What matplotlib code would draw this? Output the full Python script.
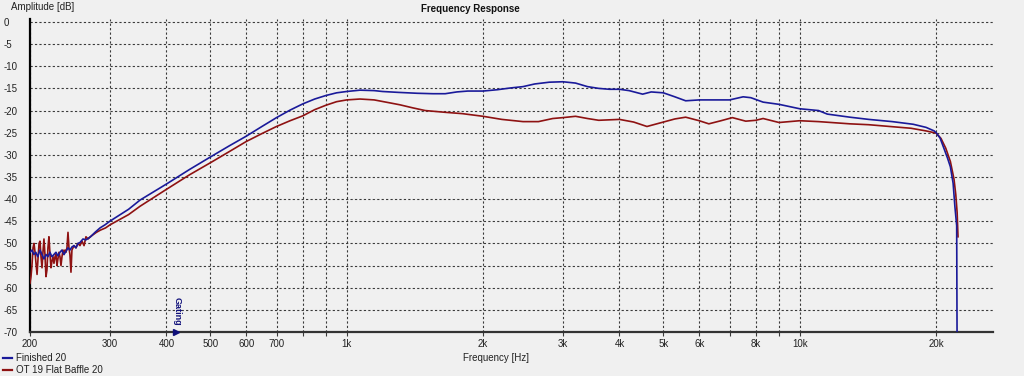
import matplotlib
matplotlib.use("Agg")
import matplotlib.pyplot as plt
from matplotlib.lines import Line2D
from matplotlib.ticker import FixedLocator, FixedFormatter, NullFormatter

plt.rcParams['font.family'] = ['Liberation Sans', 'DejaVu Sans']

# ---------------- data ----------------
blue_freq = [200, 202, 204, 206, 208, 210.4, 212.5, 214.7, 216.9, 219.1, 221.3, 223.6,
             225.9, 228.2, 230.5, 232.9, 235.2, 237.7, 240.1, 242.6, 245, 247.5, 250.1,
             252.6, 255.2, 257.8, 261.8, 265.8, 272, 278.3, 285.5, 292.8, 300,
             330, 350, 400, 450, 500, 550, 600, 650, 700, 750, 800, 850, 900, 950,
             1000, 1070, 1150, 1200, 1300, 1430, 1550, 1650, 1750, 1850, 2000, 2150,
             2300, 2450, 2600, 2800, 3000, 3200, 3400, 3600, 3800, 4000, 4200, 4500,
             4700, 5000, 5300, 5600, 6000, 6500, 7000, 7500, 7800, 8300, 9000, 10000,
             11000, 11500, 12900, 14200, 16000, 17800, 19000, 19800, 20000, 20400,
             20800, 21200, 21500, 21800, 22000, 22200, 22250]
blue_db = [-52.0, -51.5, -52.5, -52.0, -53.0, -51.5, -52.5, -53.5, -52.5, -53.0, -52.0, -53.0,
           -52.5, -52.0, -52.8, -52.0, -51.5, -52.5, -51.8, -51.0, -51.5, -50.8, -50.5,
           -51.0, -50.0, -49.8, -49.0, -49.2, -48.5, -47.5, -46.5, -45.8, -45.0,
           -42.3, -40.2, -36.6, -33.3, -30.5, -28.0, -25.8, -23.6, -21.6, -19.9, -18.5,
           -17.4, -16.6, -16.0,
           -15.7, -15.4, -15.5, -15.7, -15.9, -16.1, -16.2, -16.2, -15.8, -15.6, -15.6, -15.3,
           -14.9, -14.6, -14.0, -13.6, -13.5, -13.8, -14.6, -15.0, -15.2, -15.2, -15.5, -16.3,
           -15.8, -16.0, -16.9, -17.8, -17.6, -17.6, -17.6, -16.9, -17.1, -18.1, -18.6, -19.6,
           -20.0, -20.8, -21.5, -22.0, -22.5, -23.1, -23.8, -24.6, -25.0, -26.2,
           -28.5, -30.8, -32.7, -36.4, -41.7, -46.0, -75.0]

red_freq = [200.0, 201.0, 202.0, 203.1, 204.1, 205.2, 206.2, 207.3, 208.3, 209.4, 210.4,
            211.5, 212.6, 213.6, 214.7, 215.8, 216.9, 218.0, 219.1, 220.2, 221.4, 222.5,
            223.6, 224.8, 225.9, 227.1, 228.2, 229.4, 230.5, 231.7, 232.9, 234.1, 235.3,
            236.5, 237.7, 238.9, 240.1, 241.3, 242.6, 243.8, 245.0, 246.3, 247.5, 248.8,
            250.1, 252.6, 255.2, 257.8, 260.5, 263.2, 265.8, 268.6, 271.7, 275.9, 280.3,
            286.0, 293.6, 300.4,
            330, 350, 400, 450, 500, 550, 600, 650, 700, 750, 800, 850, 900, 950,
            1000, 1070, 1150, 1250, 1310, 1400, 1490, 1650, 1800, 2000, 2200, 2450, 2650,
            2850, 3000, 3200, 3400, 3600, 4000, 4300, 4600, 5000, 5300, 5600, 6000, 6300,
            6700, 7100, 7600, 8000, 8300, 9000, 10000, 11000, 12900, 14200, 15800, 17600,
            19000, 20000, 20500, 21000, 21500, 21900, 22100, 22250, 22350]
red_db = [-59.0, -57.5, -55.0, -51.0, -50.0, -52.0, -54.5, -57.0, -53.5, -50.0, -49.5,
          -53.0, -55.5, -52.0, -49.0, -52.5, -57.5, -56.0, -51.0, -48.5, -52.5, -55.5,
          -54.0, -53.0, -54.5, -53.0, -52.5, -55.0, -53.5, -52.0, -53.0, -55.0, -53.0,
          -51.5, -52.5, -51.5, -52.0, -51.0, -47.5, -51.0, -52.5, -56.5, -51.5, -51.0,
          -50.5, -51.0, -50.0, -50.5, -49.5, -50.5, -48.5, -49.0, -48.5, -48.0, -47.5,
          -47.0, -46.5, -45.8,
          -43.5, -41.6, -37.8, -34.5, -31.8, -29.3, -27.0, -25.2, -23.6, -22.3, -21.2,
          -19.8, -18.8, -18.0,
          -17.6, -17.4, -17.6, -18.3, -18.7, -19.4, -20.0, -20.4, -20.7, -21.3, -22.0,
          -22.5, -22.5, -21.8, -21.6, -21.3, -21.8, -22.2, -22.0, -22.6, -23.6, -22.6,
          -21.9, -21.5, -22.3, -23.0, -22.3, -21.6, -22.4, -22.2, -21.8, -22.7, -22.3,
          -22.5, -23.0, -23.2, -23.6, -24.0, -24.6, -25.1, -26.3, -28.5, -31.5, -35.5,
          -39.0, -43.0, -48.5]

x_ticks = [200, 300, 400, 500, 600, 700, 1000, 2000, 3000, 4000, 5000, 6000, 8000, 10000, 20000]
x_labels = ['200', '300', '400', '500', '600', '700', '1k', '2k', '3k', '4k', '5k', '6k', '8k', '10k', '20k']
x_minor = [800, 900, 7000, 9000]
y_ticks = [0, -5, -10, -15, -20, -25, -30, -35, -40, -45, -50, -55, -60, -65, -70]
y_labels = [str(v) for v in y_ticks]
series_names = ['Finished 20', 'OT 19 Flat Baffle 20']
gating_freq = 419

# ---------------- style ----------------
BG = '#f0f0f0'
BLUE = '#1a1a9a'
RED = '#8e1212'
W, H = 1024, 376

fig = plt.figure(figsize=(W / 100, H / 100), dpi=100, facecolor=BG)
ax = fig.add_axes([30 / W, 1 - 332 / H, (993 - 30) / W, (332 - 19.3) / H])
ax.set_facecolor(BG)

ax.set_xscale('log')
ax.set_xlim(200, 26700)
ax.set_ylim(-70, 0.6)

ax.xaxis.set_major_locator(FixedLocator(x_ticks))
ax.xaxis.set_major_formatter(FixedFormatter(x_labels))
ax.xaxis.set_minor_locator(FixedLocator(x_minor))
ax.xaxis.set_minor_formatter(NullFormatter())
ax.yaxis.set_major_locator(FixedLocator(y_ticks))
ax.yaxis.set_major_formatter(FixedFormatter(y_labels))

ax.grid(True, which='both', axis='x', color='#3a3a3a', linestyle=(0, (2, 2)), linewidth=0.8)
ax.grid(True, which='major', axis='y', color='#3a3a3a', linestyle=(0, (2, 2)), linewidth=0.8)

ax.tick_params(axis='x', which='both', direction='out', length=3, width=0.8,
               color='#3a3a3a', labelsize=7, pad=2, labelcolor='#222222')
ax.tick_params(axis='y', which='both', length=0, labelsize=7, pad=26 * 0.72,
               labelcolor='#222222')
for lab in ax.get_yticklabels():
    lab.set_horizontalalignment('left')

for s in ['top', 'right']:
    ax.spines[s].set_visible(False)
ax.spines['left'].set_color('black')
ax.spines['left'].set_linewidth(1.6)
ax.spines['bottom'].set_color('#333333')
ax.spines['bottom'].set_linewidth(1.6)

ax.plot(red_freq, red_db, color=RED, lw=1.2, zorder=3)
ax.plot(blue_freq, blue_db, color=BLUE, lw=1.2, zorder=4)

# gating marker
ax.plot([gating_freq], [-70], marker='>', color='#10107a', markersize=5, clip_on=False, zorder=6)
ax.text(gating_freq * 1.01, -65.3, 'Gating', rotation=-90, ha='center', va='center',
        fontsize=6.5, fontweight='bold', color='#10107a')

# texts
fig.text(11 / W, 1 - 7 / H, 'Amplitude [dB]', fontsize=7, ha='left', va='center', color='#222222')
fig.text(470 / W, 1 - 9 / H, 'Frequency Response', fontsize=7, fontweight='bold',
         ha='center', va='center', color='#111111')
fig.text(496 / W, 1 - 358 / H, 'Frequency [Hz]', fontsize=7, ha='center', va='center', color='#222222')

# legend
for i, (name, col) in enumerate(zip(series_names, [BLUE, RED])):
    yy = 1 - (358 + 12 * i) / H
    fig.add_artist(Line2D([3 / W, 12 / W], [yy, yy], color=col, lw=1.6))
    fig.text(16 / W, yy, name, fontsize=7, ha='left', va='center', color='#222222')

fig.savefig('out.png', dpi=100, facecolor=BG)
